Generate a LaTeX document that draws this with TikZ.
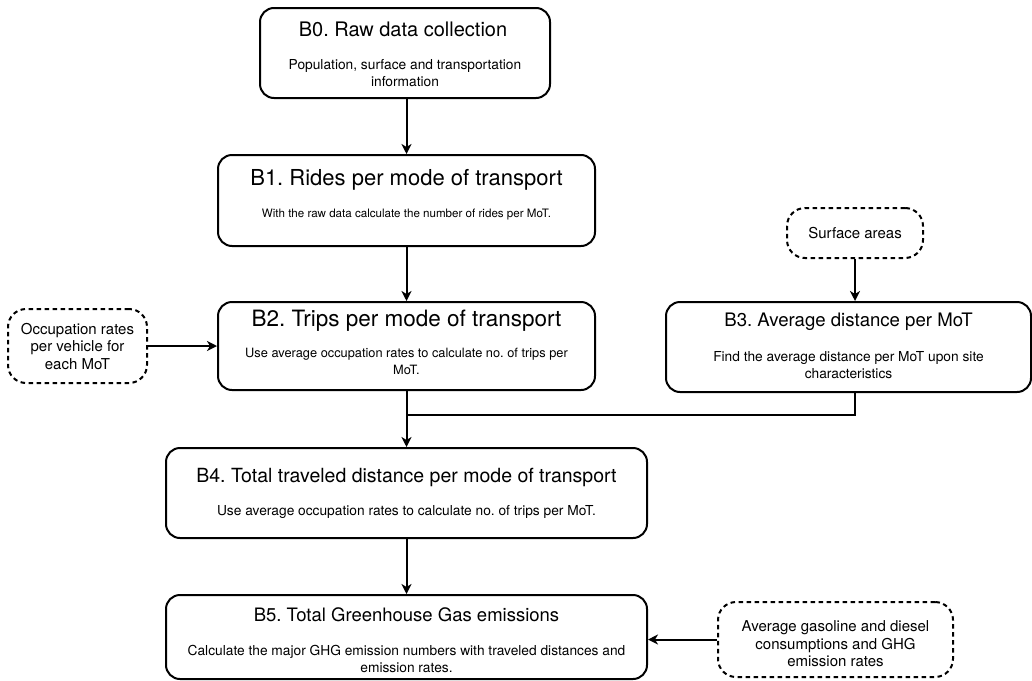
\documentclass[tikz,border=0pt]{standalone}
\usepackage{fontspec}
\setmainfont{TeX Gyre Heros}
\usetikzlibrary{arrows.meta}
\newcommand{\fs}[1]{\fontsize{#1}{17}\selectfont}
\begin{document}
\frenchspacing
\begin{tikzpicture}[x=1pt,y=-1pt,
  stepbox/.style={draw, line width=2pt, rounded corners=14pt, inner sep=0pt},
  inbox/.style={draw, line width=2pt, rounded corners=18pt, inner sep=0pt, dash pattern=on 4.5pt off 3.5pt},
  ttltxt/.style={font=\fs{#1}, inner sep=0pt},
  ttltxt/.default=20,
  bdytxt/.style={font=\fs{#1}, align=center, inner sep=0pt},
  bdytxt/.default=13.75,
  dshtxt/.style={font=\fontsize{15}{17.5}\selectfont, align=center, inner sep=0pt},
  conn/.style={line width=2pt},
  arr/.style={line width=2pt, -{Stealth[length=10pt,width=10pt,inset=3pt]}}
]
\useasboundingbox (0,0) rectangle (1032,680);

% main boxes
\node[stepbox, minimum width=290pt, minimum height=90pt] (b0) at (405,53) {};
\node[stepbox, minimum width=377pt, minimum height=91pt] (b1) at (406.5,200.5) {};
\node[stepbox, minimum width=377pt, minimum height=88pt] (b2) at (406.5,346) {};
\node[stepbox, minimum width=365pt, minimum height=90pt] (b3) at (848.5,347) {};
\node[stepbox, minimum width=481pt, minimum height=90pt] (b4) at (406.5,493) {};
\node[stepbox, minimum width=481pt, minimum height=84pt] (b5) at (406.5,637) {};

% input boxes
\node[inbox, minimum width=139pt, minimum height=74pt] (occ) at (77.5,346) {};
\node[inbox, minimum width=136pt, minimum height=50pt] (sa) at (855,233) {};
\node[inbox, minimum width=235pt, minimum height=75pt] (gas) at (835.5,639.5) {};

% texts
\node[ttltxt] (b0t) at (403,29) {B0. Raw data collection};
\node[bdytxt] (b0d) at (405,73) {Population, surface and transportation\\information};
\node[ttltxt=22] (b1t) at (406.5,180) {B1. Rides per mode of transport};
\node[bdytxt=11.6] (b1d) at (406.5,215) {With the raw data calculate the number of rides per MoT.};
\node[ttltxt=22.5] (b2t) at (406.5,321) {B2. Trips per mode of transport};
\node[bdytxt=12.8] (b2d) at (406.5,361.5) {Use average occupation rates to calculate no. of trips per\\MoT.};
\node[ttltxt=18.6] (b3t) at (848.5,322) {B3. Average distance per MoT};
\node[bdytxt] (b3d) at (848.5,365) {Find the average distance per MoT upon site\\characteristics};
\node[ttltxt=19.5] (b4t) at (406.5,477) {B4. Total traveled distance per mode of transport};
\node[bdytxt] (b4d) at (406.5,512) {Use average occupation rates to calculate no. of trips per MoT.};
\node[ttltxt=18.5] (b5t) at (406.5,615) {B5. Total Greenhouse Gas emissions};
\node[bdytxt] (b5d) at (406.5,659) {Calculate the major GHG emission numbers with traveled distances and\\emission rates.};
\node[dshtxt] (occt) at (77.5,346.5) {Occupation rates\\per vehicle for\\each MoT};
\node[dshtxt] (sat) at (855,233) {Surface areas};
\node[dshtxt] (gast) at (835.5,644) {Average gasoline and diesel\\consumptions and GHG\\emission rates};

% connectors
\coordinate (m) at (406.5,415);
\draw[arr] (b0.south -| b1.north) -- (b1.north);
\draw[arr] (b1.south) -- (b2.north);
\draw[arr] (occ.east) -- (occ.east -| b2.west);
\draw[arr] (sa.south) -- (sa.south |- b3.north);
\draw[conn] (sa.south |- b3.south) |- (m);
\draw[arr] (b2.south) -- (b4.north);
\draw[arr] (b4.south) -- (b5.north);
\draw[arr] (gas.west) -- (gas.west -| b5.east);
\end{tikzpicture}
\end{document}
